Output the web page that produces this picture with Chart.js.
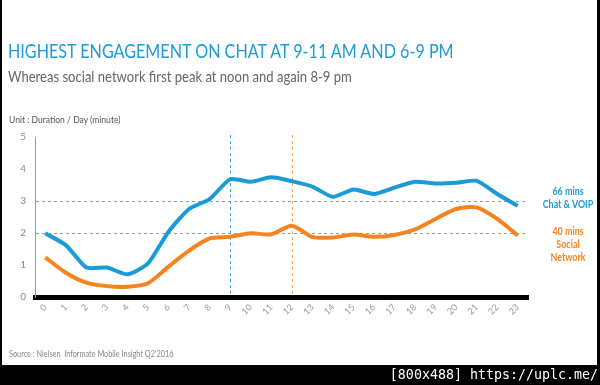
<!DOCTYPE html>
<html>
<head>
<meta charset="utf-8">
<script src="https://cdn.jsdelivr.net/npm/chart.js@4"></script>
<style>
  html, body { margin: 0; padding: 0; }
  body { width: 600px; height: 385px; background: #000; position: relative; overflow: hidden; font-family: Lato, "Open Sans", sans-serif; }
  #sheet { position: absolute; left: 2px; top: 0; width: 595px; height: 365px; background: #fff; }
  canvas { position: absolute; left: 0; top: 0; }
  .t { position: absolute; white-space: nowrap; transform-origin: 0 0; }
  #title { left: 8px; top: 39px; font-size: 19px; color: #1c9bd8; transform: scaleX(0.85); }
  #sub { left: 8px; top: 67px; font-size: 15px; color: #666; transform: scaleX(0.87); }
  #unit { left: 9px; top: 114px; font-size: 9px; color: #555; transform: scaleX(0.95); }
  #src { left: 9px; top: 349px; font-size: 8.5px; color: #888; transform: scaleX(0.86); }
  .side { position: absolute; width: 80px; text-align: center; font-weight: bold; font-size: 10.5px; line-height: 13px; transform: scaleX(0.85); transform-origin: 50% 0; }
  #chat { left: 528px; top: 185px; color: #1c9bd8; }
  #soc { left: 528px; top: 225px; color: #f5841f; }
  #stamp { position: absolute; right: 2px; top: 367px; color: #fff; font-family: "DejaVu Sans Mono", monospace; font-size: 13.3px; }
</style>
</head>
<body>
<div id="sheet"></div>
<canvas id="engagementChart" width="600" height="385"></canvas>
<div class="t" id="title">HIGHEST ENGAGEMENT ON CHAT AT 9-11 AM AND 6-9 PM</div>
<div class="t" id="sub">Whereas social network first peak at noon and again 8-9 pm</div>
<div class="t" id="unit">Unit : Duration / Day (minute)</div>
<div class="t" id="src">Source : Nielsen&nbsp; Informate Mobile Insight Q2'2016</div>
<div class="side" id="chat">66 mins<br>Chat &amp; VOIP</div>
<div class="side" id="soc">40 mins<br>Social<br>Network</div>
<div id="stamp">[800x488] https://uplc.me/</div>
<script>
// hour of day
const hours = ["0","1","2","3","4","5","6","7","8","9","10","11","12","13","14","15","16","17","18","19","20","21","22","23"];
// minutes per hour
const chatVoip = [1.99, 1.62, 0.92, 0.92, 0.71, 1.05, 2.04, 2.75, 3.06, 3.68, 3.6, 3.74, 3.62, 3.45, 3.13, 3.36, 3.22, 3.42, 3.6, 3.55, 3.57, 3.63, 3.22, 2.85];
const socialNetwork = [1.24, 0.76, 0.45, 0.34, 0.32, 0.43, 0.95, 1.45, 1.83, 1.88, 1.99, 1.96, 2.23, 1.88, 1.86, 1.95, 1.88, 1.94, 2.11, 2.44, 2.75, 2.8, 2.44, 1.92];
const yTicks = [0, 1, 2, 3, 4, 5];
const markedHours = [["9", "#3fa9dc"], ["12", "#f5a25a"]];

// dashed markers at peak hours
const peakLines = {
  id: "peakLines",
  beforeDatasetsDraw(chart) {
    const { ctx, chartArea, scales } = chart;
    ctx.save();
    ctx.lineWidth = 1;
    ctx.setLineDash([3, 3]);
    markedHours.forEach(([h, color]) => {
      const x = Math.round(scales.x.getPixelForValue(hours.indexOf(h))) + 0.5;
      ctx.strokeStyle = color;
      ctx.beginPath();
      ctx.moveTo(x, chartArea.top - 2);
      ctx.lineTo(x, chartArea.bottom);
      ctx.stroke();
    });
    ctx.restore();
  },
};

new Chart(document.getElementById("engagementChart"), {
  type: "line",
  data: {
    labels: hours,
    datasets: [
      {
        label: "Chat & VOIP",
        data: chatVoip,
        borderColor: "#1a9bd7",
        borderWidth: 4,
        pointRadius: 0,
        tension: 0.2,
      },
      {
        label: "Social Network",
        data: socialNetwork,
        borderColor: "#f5841f",
        borderWidth: 4,
        pointRadius: 0,
        tension: 0.25,
      },
    ],
  },
  options: {
    responsive: false,
    animation: false,
    layout: { padding: { top: 137, right: 72, left: 0, bottom: 0 } },
    plugins: { legend: { display: false }, tooltip: { enabled: false } },
    scales: {
      x: {
        offset: true,
        afterFit(scale) { scale.height = 88; },
        grid: { display: false, drawTicks: false },
        border: { color: "#000", width: 5 },
        ticks: {
          minRotation: 45,
          maxRotation: 45,
          padding: 5,
          color: "#999",
          font: { family: "Lato", size: 9 },
        },
      },
      y: {
        min: 0,
        max: 5,
        afterFit(scale) { scale.width = 35; },
        afterBuildTicks(scale) { scale.ticks = yTicks.map((v) => ({ value: v })); },
        border: { color: "#999", width: 1, dash: [3, 3] },
        grid: {
          drawTicks: false,
          color: (c) => (c.tick && (c.tick.value === 2 || c.tick.value === 3) ? "#999" : "rgba(0,0,0,0)"),
        },
        ticks: {
          padding: 9,
          color: "#888",
          font: { family: "Lato", size: 10 },
        },
      },
    },
  },
  plugins: [peakLines],
});
</script>
</body>
</html>
